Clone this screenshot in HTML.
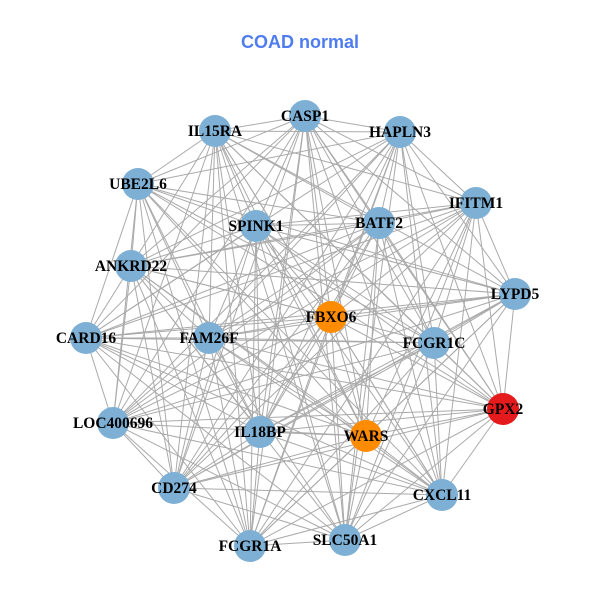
<!DOCTYPE html>
<html><head><meta charset="utf-8"><style>
html,body{margin:0;padding:0;background:#fff;}
svg{display:block}
</style></head><body>
<svg id="s" width="600" height="600" xmlns="http://www.w3.org/2000/svg">
<rect width="600" height="600" fill="#fff"/>
<text x="300" y="48" text-anchor="middle" font-family="Liberation Sans, sans-serif" font-weight="bold" font-size="18" fill="#4f7cf0">COAD normal</text>
<g id="e" stroke="#aaaaaa" stroke-width="1"></g>
<g id="n"></g>
</svg>
<script>
var N=[["CASP1",305,116,"#7eb0d5"],["HAPLN3",400,132,"#7eb0d5"],["IL15RA",215,131,"#7eb0d5"],["IFITM1",476,203,"#7eb0d5"],["UBE2L6",138,184,"#7eb0d5"],["SPINK1",256,226,"#7eb0d5"],["BATF2",379,223,"#7eb0d5"],["ANKRD22",131,266,"#7eb0d5"],["LYPD5",515,294,"#7eb0d5"],["FBXO6",331,317,"#ff8c00"],["CARD16",86,338,"#7eb0d5"],["FAM26F",209,338,"#7eb0d5"],["FCGR1C",434,343,"#7eb0d5"],["GPX2",503,409,"#e41a1c"],["LOC400696",113,423,"#7eb0d5"],["IL18BP",260,432,"#7eb0d5"],["WARS",366,436,"#ff8c00"],["CD274",174,488,"#7eb0d5"],["CXCL11",442,495,"#7eb0d5"],["FCGR1A",250,546,"#7eb0d5"],["SLC50A1",345,540,"#7eb0d5"]];
var ns="http://www.w3.org/2000/svg",e=document.getElementById("e"),g=document.getElementById("n");
for(var i=0;i<N.length;i++)for(var j=i+1;j<N.length;j++){if((i*7+j*3)%11==0)continue;var l=document.createElementNS(ns,"line");l.setAttribute("x1",N[i][1]);l.setAttribute("y1",N[i][2]);l.setAttribute("x2",N[j][1]);l.setAttribute("y2",N[j][2]);e.appendChild(l);}
N.forEach(function(d){var c=document.createElementNS(ns,"circle");c.setAttribute("cx",d[1]);c.setAttribute("cy",d[2]);c.setAttribute("r",16);c.setAttribute("fill",d[3]);g.appendChild(c);});
N.forEach(function(d){var t=document.createElementNS(ns,"text");t.setAttribute("x",d[1]);t.setAttribute("y",d[2]+5);t.setAttribute("text-anchor","middle");t.setAttribute("font-family","Liberation Serif, serif");t.setAttribute("font-weight","bold");t.setAttribute("font-size","15.5");t.textContent=d[0];g.appendChild(t);});
</script>
</body></html>
